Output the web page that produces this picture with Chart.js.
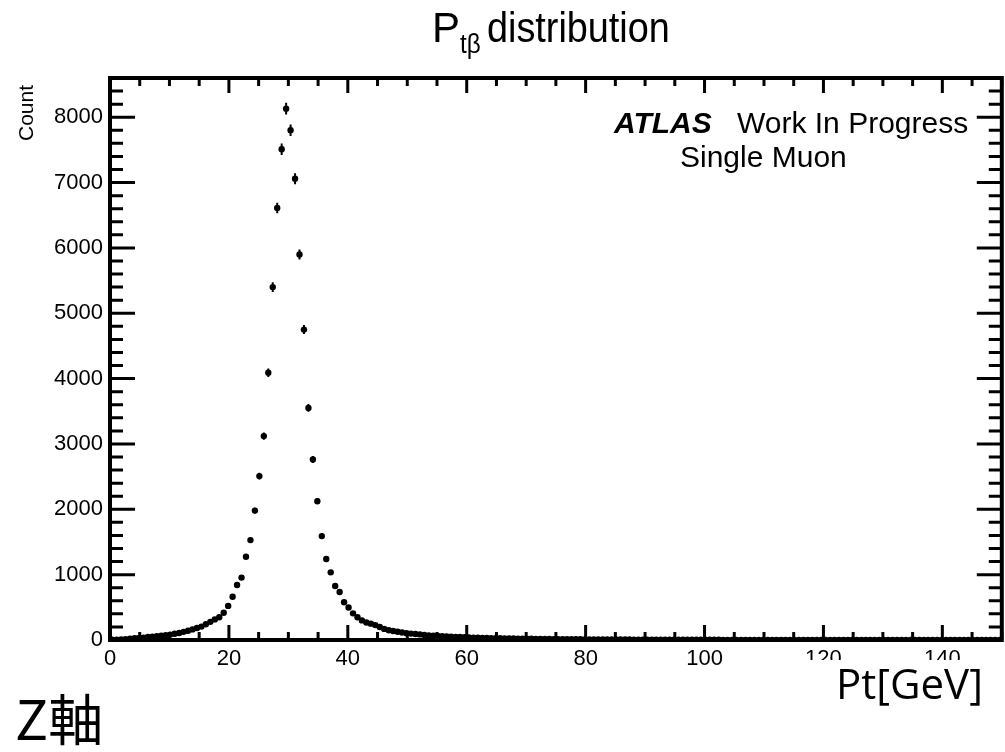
<!DOCTYPE html>
<html>
<head>
<meta charset="utf-8">
<script src="https://cdn.jsdelivr.net/npm/chart.js@4.4.1/dist/chart.umd.min.js"></script>
<style>
body { margin: 0; background: #fff; }
#wrap { position: relative; width: 1005px; height: 752px; overflow: hidden; background: #fff; }
#chart { position: absolute; left: 0; top: 0; }
.txt { position: absolute; line-height: 1; white-space: nowrap; color: #000;
       font-family: "Liberation Sans", Arial, sans-serif; }
</style>
</head>
<body>
<div id="wrap">
  <canvas id="chart" width="1005" height="752"></canvas>

  <div class="txt" style="left:432px;top:7px;font-size:42px">P</div>
  <div class="txt" style="left:460px;top:31px;font-size:27px;transform:scaleX(0.9);transform-origin:left top">tβ</div>
  <div class="txt" style="left:487px;top:7px;font-size:42px;transform:scaleX(0.9);transform-origin:left top">distribution</div>

  <div class="txt" style="left:15px;top:141px;font-size:21px;transform:rotate(-90deg);transform-origin:left top">Count</div>

  <div class="txt" style="left:614px;top:108px;font-size:30px;font-weight:bold;font-style:italic">ATLAS</div>
  <div class="txt" style="left:737px;top:108px;font-size:30px">Work In Progress</div>
  <div class="txt" style="left:680px;top:142px;font-size:30px">Single Muon</div>

  <div class="txt" style="left:790px;top:660px;width:215px;height:55px;background:#fff"></div>
  <div class="txt" style="left:836px;top:662px;font-size:42px;font-family:'Open Sans','Noto Sans',sans-serif">Pt[GeV]</div>
  <div class="txt" style="left:15px;top:689px;font-size:55px;font-family:'Noto Sans CJK JP','Noto Sans CJK SC',sans-serif">Z軸</div>
</div>

<script>
// histogram: 200 bins of 0.75 GeV from 0 to 150
const binLow = 0;
const binWidth = 0.75;

const counts = [
  3, 6, 10, 14, 20, 26, 31, 37, 45, 52,
  58, 65, 73, 83, 95, 108, 125, 142, 162, 183,
  205, 240, 278, 315, 348, 418, 522, 662, 841, 955,
  1274, 1529, 1980, 2508, 3120, 4090, 5400, 6610, 7510, 8130,
  7800, 7060, 5900, 4750, 3552, 2763, 2125, 1590, 1239, 1035,
  826, 734, 578, 497, 408, 348, 300, 268, 250, 228,
  200, 170, 150, 137, 127, 114, 105, 98, 92, 86,
  78, 70, 65, 62, 59, 55, 51, 48, 45, 42,
  40, 37, 35, 33, 31, 29, 27, 26, 24, 23,
  22, 21, 20, 19, 18, 17, 16, 15, 15, 14,
  13, 13, 12, 12, 11, 11, 10, 10, 9, 9,
  9, 8, 8, 8, 7, 7, 7, 6, 6, 6,
  6, 5, 5, 5, 5, 4, 4, 4, 4, 4,
  3, 3, 3, 3, 3, 3, 3, 2, 2, 2,
  2, 2, 2, 2, 2, 2, 2, 2, 2, 2,
  2, 1, 2, 1, 1, 2, 1, 1, 1, 1,
  1, 1, 1, 1, 1, 1, 1, 1, 1, 1,
  1, 1, 1, 1, 0, 1, 1, 1, 0, 1,
  1, 0, 1, 1, 0, 1, 0, 1, 0, 1,
  0, 1, 0, 0, 1, 0, 1, 0, 0, 1
];

const xTickValues = [0, 20, 40, 60, 80, 100, 120, 140];
const yTickValues = [0, 1000, 2000, 3000, 4000, 5000, 6000, 7000, 8000];
const xRange = [0, 150];
const yRange = [0, 8600];
const xMinorStep = 5;
const yMinorStep = 200;

const points = counts.map((c, i) => ({ x: binLow + binWidth * (i + 0.5), y: c }));

// ROOT style error bars: bin width horizontally, sqrt(N) vertically
const errorBars = {
  id: "errorBars",
  beforeDatasetsDraw(chart) {
    const { ctx, chartArea: a, scales: { x, y } } = chart;
    ctx.save();
    ctx.beginPath();
    ctx.rect(a.left, a.top, a.right - a.left, a.bottom - a.top);
    ctx.clip();
    ctx.strokeStyle = "#000";
    ctx.lineWidth = 2;
    ctx.beginPath();
    points.forEach(p => {
      const px = x.getPixelForValue(p.x);
      const py = y.getPixelForValue(p.y);
      const err = Math.sqrt(p.y);
      ctx.moveTo(x.getPixelForValue(p.x - binWidth / 2), py);
      ctx.lineTo(x.getPixelForValue(p.x + binWidth / 2), py);
      ctx.moveTo(px, y.getPixelForValue(p.y - err));
      ctx.lineTo(px, y.getPixelForValue(p.y + err));
    });
    ctx.stroke();
    ctx.restore();
  }
};

// frame with inward ticks on all four sides
const frame = {
  id: "frame",
  afterDraw(chart) {
    const { ctx, chartArea: a, scales: { x, y } } = chart;
    ctx.save();
    ctx.strokeStyle = "#000";
    ctx.lineWidth = 3;
    ctx.beginPath();
    for (let v = xRange[0]; v <= xRange[1]; v += xMinorStep) {
      const px = x.getPixelForValue(v);
      const len = xTickValues.includes(v) ? 15 : 8;
      ctx.moveTo(px, a.bottom); ctx.lineTo(px, a.bottom - len);
      ctx.moveTo(px, a.top); ctx.lineTo(px, a.top + len);
    }
    for (let v = yRange[0]; v <= yRange[1]; v += yMinorStep) {
      const py = y.getPixelForValue(v);
      const len = v % 1000 === 0 ? 25 : 13;
      ctx.moveTo(a.left, py); ctx.lineTo(a.left + len, py);
      ctx.moveTo(a.right, py); ctx.lineTo(a.right - len, py);
    }
    ctx.stroke();
    ctx.lineWidth = 4;
    ctx.strokeRect(a.left, a.top, a.right - a.left, a.bottom - a.top);
    ctx.restore();
  }
};

const tickFont = { family: "'Liberation Sans', Arial, sans-serif", size: 22 };

new Chart(document.getElementById("chart"), {
  type: "scatter",
  data: {
    datasets: [{
      data: points,
      pointRadius: 3.2,
      pointHoverRadius: 3.2,
      pointBackgroundColor: "#000",
      pointBorderWidth: 0,
      showLine: false
    }]
  },
  options: {
    responsive: false,
    animation: false,
    devicePixelRatio: 1,
    layout: { padding: { left: 0, right: 1, top: 78, bottom: 72 } },
    plugins: { legend: { display: false }, tooltip: { enabled: false } },
    scales: {
      x: {
        type: "linear",
        min: xRange[0],
        max: xRange[1],
        afterBuildTicks: s => { s.ticks = xTickValues.map(v => ({ value: v })); },
        afterFit: s => { s.height = 40; },
        grid: { display: false, drawTicks: false },
        border: { display: false },
        ticks: { autoSkip: false, maxRotation: 0, padding: 6, color: "#000", font: tickFont,
                 callback: v => String(v) }
      },
      y: {
        type: "linear",
        min: yRange[0],
        max: yRange[1],
        afterBuildTicks: s => { s.ticks = yTickValues.map(v => ({ value: v })); },
        afterFit: s => { s.width = 110; },
        grid: { display: false, drawTicks: false },
        border: { display: false },
        ticks: { autoSkip: false, padding: 7, color: "#000", font: tickFont,
                 callback: v => String(v) }
      }
    }
  },
  plugins: [errorBars, frame]
});
</script>
</body>
</html>
